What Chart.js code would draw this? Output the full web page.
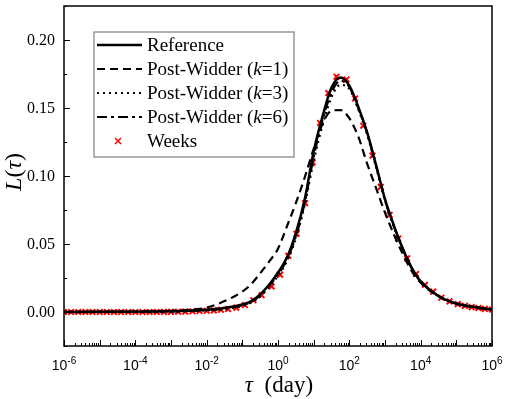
<!DOCTYPE html>
<html lang="en">
<head>
<meta charset="UTF-8" />
<title>L(tau)</title>
<script src="https://cdn.jsdelivr.net/npm/chart.js"></script>
<style>
  html, body { margin: 0; padding: 0; background: #fff; }
</style>
</head>
<body>
<canvas id="lt" width="505" height="399"></canvas>
<script>
// tau axis, as log10(tau / day)
const lineExp = [-6, -5, -4, -3, -2.5, -2, -1.5, -1, -0.75, -0.5, -0.25, 0, 0.25, 0.5, 0.75, 1, 1.25, 1.5, 1.75, 2, 2.25, 2.5, 2.75, 3, 3.25, 3.5, 3.75, 4, 4.5, 5, 5.5, 6];

const reference = [0, 0.0001, 0.0002, 0.0006, 0.0010, 0.0017, 0.0030, 0.0055, 0.0080, 0.0130, 0.0200, 0.0290, 0.0400, 0.0580, 0.0830, 0.1180, 0.1440, 0.1650, 0.1725, 0.1665, 0.1510, 0.1320, 0.1080, 0.0830, 0.0635, 0.0465, 0.0325, 0.0225, 0.0118, 0.0062, 0.0036, 0.0018];
const pw1 = [0, 0.0001, 0.0003, 0.0009, 0.0016, 0.0033, 0.0080, 0.0150, 0.0205, 0.0285, 0.0370, 0.0465, 0.0630, 0.0800, 0.0990, 0.1200, 0.1385, 0.1480, 0.1485, 0.1425, 0.1290, 0.1090, 0.0910, 0.0730, 0.0570, 0.0425, 0.0300, 0.0215, 0.0115, 0.0061, 0.0035, 0.0017];
const pw3 = [0, 0.0001, 0.0002, 0.0004, 0.0007, 0.0012, 0.0022, 0.0045, 0.0070, 0.0115, 0.0185, 0.0265, 0.0375, 0.0540, 0.0790, 0.1110, 0.1375, 0.1580, 0.1670, 0.1640, 0.1490, 0.1305, 0.1065, 0.0820, 0.0625, 0.0460, 0.0320, 0.0225, 0.0118, 0.0062, 0.0036, 0.0018];
const pw6 = [0, 0.0001, 0.0002, 0.0005, 0.0008, 0.0014, 0.0025, 0.0050, 0.0075, 0.0122, 0.0192, 0.0275, 0.0385, 0.0555, 0.0805, 0.1140, 0.1410, 0.1615, 0.1700, 0.1655, 0.1500, 0.1315, 0.1075, 0.0825, 0.0630, 0.0465, 0.0322, 0.0225, 0.0118, 0.0062, 0.0036, 0.0018];

const weeksExp = [-6, -5.8, -5.6, -5.4, -5.2, -5, -4.8, -4.6, -4.4, -4.2, -4, -3.8, -3.6, -3.4, -3.2, -3, -2.8, -2.6, -2.4, -2.2, -2, -1.8, -1.6, -1.4, -1.17, -0.93, -0.69, -0.46, -0.18, 0.06, 0.29, 0.52, 0.76, 0.97, 1.18, 1.41, 1.64, 1.92, 2.16, 2.39, 2.65, 2.88, 3.13, 3.37, 3.62, 3.87, 4.12, 4.35, 4.58, 4.81, 5.04, 5.24, 5.43, 5.62, 5.8, 6];
const weeks = [0, 0, 0, 0, 0, 0, 0, 0, 0, 0, 0, 0, 0, 0, 0.0001, 0.0001, 0.0002, 0.0003, 0.0005, 0.0007, 0.0009, 0.0012, 0.0016, 0.0022, 0.0032, 0.0051, 0.0087, 0.0123, 0.0188, 0.0275, 0.0413, 0.0575, 0.0800, 0.1100, 0.1390, 0.1610, 0.1730, 0.1710, 0.1570, 0.1370, 0.1150, 0.0920, 0.0715, 0.0540, 0.0395, 0.0280, 0.0200, 0.0150, 0.0105, 0.0078, 0.0058, 0.0045, 0.0036, 0.0029, 0.0023, 0.0018];

const xTickExp = [-6, -4, -2, 0, 2, 4, 6];
const yTicks = [0, 0.05, 0.10, 0.15, 0.20];

const pts = (ex, ys) => ex.map((e, i) => ({ x: Math.pow(10, e), y: ys[i] }));

const serif = '"Liberation Serif", "Times New Roman", serif';
const sans = '"Liberation Sans", Arial, sans-serif';

function lineSet(label, ys, dash, width) {
  return {
    label: label,
    data: pts(lineExp, ys),
    borderColor: '#000',
    borderWidth: width,
    borderDash: dash,
    pointRadius: 0,
    fill: false,
    cubicInterpolationMode: 'monotone',
    order: 1,
  };
}

// draws text pieces, [text, italic] pairs, left to right
function richText(ctx, parts, x, y, size) {
  parts.forEach(([t, it]) => {
    ctx.font = (it ? 'italic ' : '') + size + 'px ' + serif;
    ctx.fillText(t, x, y);
    x += ctx.measureText(t).width;
  });
  return x;
}
function richWidth(ctx, parts, size) {
  let w = 0;
  parts.forEach(([t, it]) => {
    ctx.font = (it ? 'italic ' : '') + size + 'px ' + serif;
    w += ctx.measureText(t).width;
  });
  return w;
}

const decor = {
  id: 'decor',
  afterDraw(chart) {
    const ctx = chart.ctx;
    const a = chart.chartArea;
    const xs = chart.scales.x;
    const ys = chart.scales.y;
    ctx.save();

    // inward ticks
    ctx.strokeStyle = '#000';
    ctx.lineWidth = 1;
    for (let d = -6; d <= 6; d++) {
      for (let m = 1; m <= 9; m++) {
        if (d === 6 && m > 1) break;
        const px = Math.round(xs.getPixelForValue(m * Math.pow(10, d))) + 0.5;
        const len = m === 1 ? 6 : 3;
        ctx.beginPath();
        ctx.moveTo(px, a.bottom);
        ctx.lineTo(px, a.bottom - len);
        ctx.stroke();
      }
    }
    for (let v = -0.025; v <= 0.2251; v += 0.025) {
      const py = Math.round(ys.getPixelForValue(v)) + 0.5;
      const major = Math.abs(v / 0.05 - Math.round(v / 0.05)) < 1e-6;
      ctx.beginPath();
      ctx.moveTo(a.left, py);
      ctx.lineTo(a.left + (major ? 6 : 3), py);
      ctx.stroke();
    }

    // frame
    ctx.lineWidth = 1.5;
    ctx.strokeRect(a.left, a.top, a.right - a.left, a.bottom - a.top);

    // y tick labels
    ctx.fillStyle = '#000';
    ctx.textAlign = 'right';
    ctx.textBaseline = 'middle';
    ctx.font = '16px ' + serif;
    yTicks.forEach(v => ctx.fillText(v.toFixed(2), a.left - 9, ys.getPixelForValue(v) + 1));

    // x tick labels with superscript exponents
    ctx.textBaseline = 'alphabetic';
    ctx.textAlign = 'left';
    xTickExp.forEach(e => {
      const px = xs.getPixelForValue(Math.pow(10, e));
      ctx.font = '14px ' + sans;
      const w1 = ctx.measureText('10').width;
      ctx.font = '10px ' + sans;
      const sup = e < 0 ? '-' + (-e) : String(e);
      const w2 = ctx.measureText(sup).width;
      const x0 = px - (w1 + w2) / 2;
      ctx.font = '14px ' + sans;
      ctx.fillText('10', x0, 370);
      ctx.font = '10px ' + sans;
      ctx.fillText(sup, x0 + w1, 364);
    });

    // axis titles
    const parts = [['\u03c4', true], ['  (day)', false]];
    const tw = richWidth(ctx, parts, 23);
    richText(ctx, parts, (a.left + a.right) / 2 - tw / 2 + 1, 392, 23);

    ctx.save();
    ctx.translate(21, 172);
    ctx.rotate(-Math.PI / 2);
    const yparts = [['L', true], ['(', false], ['\u03c4', true], [')', false]];
    const yw = richWidth(ctx, yparts, 24);
    richText(ctx, yparts, -yw / 2, 0, 24);
    ctx.restore();

    // legend
    const bx = 94, by = 32, bw = 200, bh = 125;
    ctx.fillStyle = '#fff';
    ctx.fillRect(bx, by, bw, bh);
    ctx.strokeStyle = '#888';
    ctx.lineWidth = 1.3;
    ctx.strokeRect(bx, by, bw, bh);
    chart.data.datasets.forEach((ds, i) => {
      const cy = 45 + i * 24;
      ctx.strokeStyle = ds.borderColor;
      ctx.lineWidth = ds.borderWidth;
      if (ds.showLine === false) {
        const r = 3;
        ctx.lineWidth = 1.5;
        ctx.beginPath();
        ctx.moveTo(118 - r, cy - r); ctx.lineTo(118 + r, cy + r);
        ctx.moveTo(118 + r, cy - r); ctx.lineTo(118 - r, cy + r);
        ctx.stroke();
      } else {
        ctx.setLineDash(ds.borderDash || []);
        ctx.beginPath();
        ctx.moveTo(97, cy);
        ctx.lineTo(142, cy);
        ctx.stroke();
        ctx.setLineDash([]);
      }
      ctx.fillStyle = '#000';
      const m = ds.label.match(/^(.*\()k(=.*)$/);
      const lp = m ? [[m[1], false], ['k', true], [m[2], false]] : [[ds.label, false]];
      richText(ctx, lp, 147, cy + 6, 19);
    });
    ctx.restore();
  }
};

new Chart(document.getElementById('lt'), {
  type: 'line',
  data: {
    datasets: [
      lineSet('Reference', reference, [], 2.5),
      lineSet('Post-Widder (k=1)', pw1, [8, 5], 2.2),
      lineSet('Post-Widder (k=3)', pw3, [2, 4], 2.2),
      lineSet('Post-Widder (k=6)', pw6, [10, 4, 3, 4], 2.2),
      {
        label: 'Weeks',
        data: pts(weeksExp, weeks),
        showLine: false,
        pointStyle: 'crossRot',
        pointRadius: 4,
        borderColor: '#ff0000',
        backgroundColor: '#ff0000',
        borderWidth: 2,
        order: 5,
      },
    ],
  },
  options: {
    responsive: false,
    animation: false,
    layout: { padding: { top: 2, right: 13, left: 0, bottom: 0 } },
    plugins: { legend: { display: false }, tooltip: { enabled: false } },
    scales: {
      x: {
        type: 'logarithmic',
        min: 1e-6,
        max: 1e6,
        grid: { display: false },
        border: { display: false },
        ticks: { display: false },
        afterFit(s) { s.height = 53; },
      },
      y: {
        min: -0.025,
        max: 0.225,
        grid: { display: false },
        border: { display: false },
        ticks: { display: false },
        afterFit(s) { s.width = 64; },
      },
    },
  },
  plugins: [decor],
});
</script>
</body>
</html>
